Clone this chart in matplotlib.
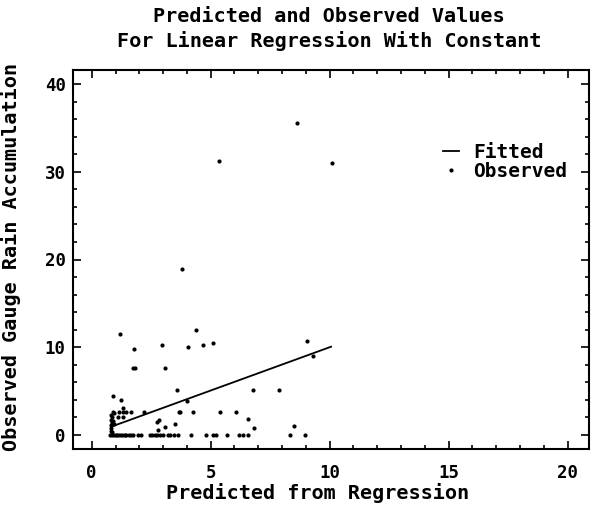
import numpy as np
import matplotlib
matplotlib.use('Agg')
import matplotlib.pyplot as plt
from matplotlib.ticker import MultipleLocator

# predicted rain (x) against gauge observations (y)
pred_x = [8.61, 10.08, 5.33, 3.78,
          1.17, 4.39, 1.77, 2.94, 4.05, 4.66, 5.08, 9.05, 9.30,
          1.75, 1.82, 3.10,
          3.59, 6.77, 7.88,
          0.88, 1.24, 3.99, 1.30,
          1.16, 1.30, 1.42, 1.65, 2.21, 3.66, 3.71, 4.24, 5.41, 6.07,
          1.10, 1.30,
          2.75, 2.83, 6.55, 3.50, 3.08, 6.84, 8.52, 2.79,
          0.80, 0.82, 0.80, 0.84, 0.80, 0.86, 0.82, 0.90, 0.95, 0.88, 0.92, 0.86,
          0.78, 0.85, 0.92, 1.00, 1.08, 1.15, 1.22, 1.30, 1.38, 1.45, 1.55,
          1.65, 1.72, 1.95, 2.05, 2.45, 2.55, 2.65, 2.75, 2.85, 2.98, 3.20,
          3.30, 3.47, 3.64, 4.17, 4.80, 5.08, 5.22, 5.69, 6.18, 6.35, 6.55,
          8.33, 8.98]
obs_y = [35.6, 31.0, 31.2, 18.9,
         11.5, 12.0, 9.8, 10.3, 10.0, 10.3, 10.5, 10.7, 9.0,
         7.6, 7.6, 7.6,
         5.1, 5.1, 5.1,
         4.4, 4.0, 3.9, 3.1,
         2.6, 2.6, 2.6, 2.6, 2.6, 2.6, 2.6, 2.6, 2.6, 2.6,
         2.1, 2.1,
         1.5, 1.7, 1.8, 1.25, 0.95, 0.76, 1.0, 0.57,
         0.5, 0.8, 1.1, 1.4, 1.7, 2.0, 2.3, 2.6, 1.2, 1.6, 2.5, 0.3,
         0.0, 0.0, 0.0, 0.0, 0.0, 0.0, 0.0, 0.0, 0.0, 0.0, 0.0,
         0.0, 0.0, 0.0, 0.0, 0.0, 0.0, 0.0, 0.0, 0.0, 0.0, 0.0,
         0.0, 0.0, 0.0, 0.0, 0.0, 0.0, 0.0, 0.0, 0.0, 0.0, 0.0,
         0.0, 0.0]

# fitted regression line end points
fit_x = [0.88, 10.06]
fit_y = [1.0, 10.06]

xticks = [0, 5, 10, 15, 20]
yticks = [0, 10, 20, 30, 40]

fnt = dict(family='DejaVu Sans Mono', weight='bold')

fig = plt.figure(figsize=(5.95, 5.09), dpi=100)
W, H = 595, 509
ax = fig.add_axes([72.7/W, 1-449/H, (589-72.7)/W, (449-70)/H])

ax.plot(fit_x, fit_y, color='k', lw=1.3, label='Fitted')
ax.plot(pred_x, obs_y, 'o', color='k', ms=3, mew=0, label='Observed')

ax.set_xlim(-0.8, 20.9)
ax.set_ylim(-1.6, 41.6)
ax.set_xticks(xticks)
ax.set_yticks(yticks)
ax.xaxis.set_minor_locator(MultipleLocator(1))
ax.yaxis.set_minor_locator(MultipleLocator(2))
ax.tick_params(which='both', direction='in', top=True, right=True, width=1.2, color='k')
ax.tick_params(which='major', length=6)
ax.tick_params(which='minor', length=3)
ax.tick_params(axis='x', pad=11)
ax.tick_params(axis='y', pad=5)
for lab in ax.get_xticklabels() + ax.get_yticklabels():
    lab.set_fontfamily(fnt['family'])
    lab.set_fontweight('bold')
    lab.set_fontsize(12.5)
for sp in ax.spines.values():
    sp.set_linewidth(1.5)

fig.text(329/W, 1-7/H, 'Predicted and Observed Values\nFor Linear Regression With Constant',
         ha='center', va='top', fontsize=14.5, linespacing=1.3, **fnt)
fig.text(318/W, 1-493/H, 'Predicted from Regression', ha='center', va='center',
         fontsize=14.5, **fnt)
fig.text(11/W, 1-257/H, 'Observed Gauge Rain Accumulation', ha='center', va='center',
         rotation=90, fontsize=14.5, **fnt)

ax.legend(loc='upper left', bbox_to_anchor=(433/W, 1-133/H), bbox_transform=fig.transFigure,
          frameon=False, borderpad=0, handlelength=0.85, handletextpad=0.7,
          labelspacing=0.0, numpoints=1, prop=dict(size=14, **fnt))

plt.savefig('out.png', dpi=100)
